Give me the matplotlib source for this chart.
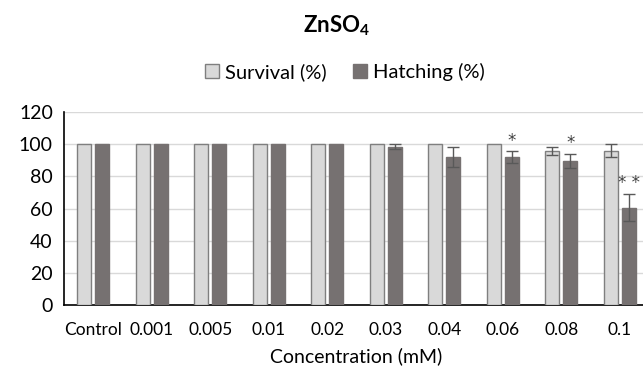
import numpy as np
import matplotlib.pyplot as plt

# ================= DATA =================
categories = ["Control", "0.001", "0.005", "0.01", "0.02", "0.03", "0.04", "0.06", "0.08", "0.1"]
survival = [100, 100, 100, 100, 100, 100, 100, 100, 96, 96]
survival_err = [0, 0, 0, 0, 0, 0, 0, 0, 2.5, 4.2]
hatching = [100, 100, 100, 100, 100, 98.5, 92, 92, 89.7, 60.6]
hatching_err = [0, 0, 0, 0, 0, 1.5, 6, 3.5, 4.4, 8.5]
signif = ["", "", "", "", "", "", "", "*", "*", "**"]

# ================= STYLE =================
plt.rcParams["font.family"] = ["Lato", "DejaVu Sans"]
plt.rcParams["mathtext.fontset"] = "custom"
plt.rcParams["mathtext.rm"] = "Lato"
plt.rcParams["mathtext.bf"] = "Lato:bold"
SURV_COLOR = "#d9d9d9"
HATCH_COLOR = "#767171"
EDGE = "#7f7f7f"
ERR = "#595959"

fig = plt.figure(figsize=(6.43, 3.67), dpi=100)
ax = fig.add_axes([64 / 643, 62 / 367, 585 / 643, 193 / 367])

x = np.arange(len(categories))
w = 0.24
off = 0.155

ax.bar(x - off, survival, w, color=SURV_COLOR, edgecolor=EDGE, linewidth=1,
       label="Survival (%)", zorder=3)
ax.bar(x + off, hatching, w, color=HATCH_COLOR, edgecolor=HATCH_COLOR, linewidth=1,
       label="Hatching (%)", zorder=3)

se = np.array(survival_err)
he = np.array(hatching_err)
ax.errorbar((x - off)[se > 0], np.array(survival)[se > 0], yerr=se[se > 0], fmt="none",
            ecolor=ERR, elinewidth=1, capsize=4, capthick=1, zorder=4)
ax.errorbar((x + off)[he > 0], np.array(hatching)[he > 0], yerr=he[he > 0], fmt="none",
            ecolor=ERR, elinewidth=1, capsize=4, capthick=1, zorder=4)

for xi, h, e, s in zip(x, hatching, hatching_err, signif):
    if s:
        ax.text(xi + off, h + e + 1, " ".join(s), ha="center", va="bottom", fontsize=12,
                color="#404040", family="DejaVu Sans")

ax.set_xlim(-0.5, len(categories) - 0.5)
ax.set_ylim(0, 120)
ax.set_yticks(range(0, 121, 20))
ax.set_xticks(x)
ax.set_xticklabels(categories, fontsize=12.5)
ax.tick_params(axis="y", labelsize=14, length=0, pad=8)
ax.tick_params(axis="x", length=0, pad=12)
ax.grid(axis="y", color="#d9d9d9", linewidth=1, zorder=0)
ax.set_axisbelow(True)

for side in ["top", "right"]:
    ax.spines[side].set_visible(False)
ax.spines["left"].set_color("black")
ax.spines["bottom"].set_color("black")
ax.spines["left"].set_linewidth(1.2)
ax.spines["bottom"].set_linewidth(1.2)

ax.set_xlabel("Concentration (mM)", fontsize=14, labelpad=7)

fig.text(336 / 643, 1 - 26 / 367, r"ZnSO$_\mathbf{4}$", ha="center", va="center",
         fontsize=16, fontweight="bold")
ax.legend(loc="center", bbox_to_anchor=(345 / 643, 1 - 72 / 367), bbox_transform=fig.transFigure,
          ncol=2, frameon=False, fontsize=14.5, handlelength=0.7, handleheight=0.7,
          handletextpad=0.3, columnspacing=1.3)

plt.savefig("out.png", dpi=100)
plt.close()
